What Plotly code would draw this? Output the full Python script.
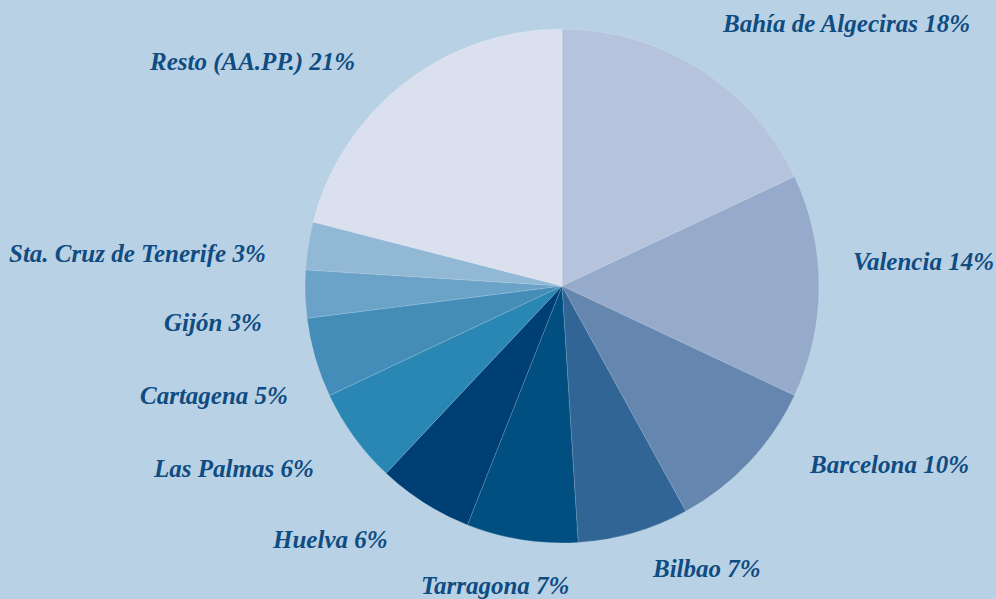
import plotly.graph_objects as go

labels = ["Bahía de Algeciras", "Valencia", "Barcelona", "Bilbao", "Tarragona",
          "Huelva", "Las Palmas", "Cartagena", "Gijón", "Sta. Cruz de Tenerife",
          "Resto (AA.PP.)"]
values = [18, 14, 10, 7, 7, 6, 6, 5, 3, 3, 21]
colors = ["#b5c4dc", "#96abcb", "#6586ae", "#316595", "#004f80", "#003f73",
          "#2a86b2", "#448db9", "#6aa2c8", "#91b8d5", "#dae0ee"]

W, H = 996, 599
# label anchor positions in pixels (x, y, xanchor)
label_pos = [(720, 24, "left"), (851, 261, "left"), (807, 464, "left"),
             (650, 568, "left"), (571, 585, "right"), (390, 539, "right"),
             (316, 468, "right"), (290, 395, "right"), (264, 322, "right"),
             (268, 253, "right"), (357, 62, "right")]

cx, cy, r = 562, 286, 257
fig = go.Figure(go.Pie(
    labels=labels, values=values, sort=False, direction="clockwise",
    rotation=0, marker=dict(colors=colors, line=dict(color="rgba(255,255,255,0.25)", width=0.6)),
    textinfo="none", hoverinfo="label+percent", showlegend=False,
    domain=dict(x=[(cx - r) / W, (cx + r) / W],
                y=[(H - cy - r) / H, (H - cy + r) / H]),
))

total = sum(values)
for lab, v, (px, py, xa) in zip(labels, values, label_pos):
    fig.add_annotation(
        x=px / W, y=1 - py / H, xref="paper", yref="paper",
        text=f"<b><i>{lab} {round(100 * v / total)}%</i></b>", showarrow=False,
        xanchor=xa, yanchor="middle",
        font=dict(family="Liberation Serif, Times New Roman, serif", size=25,
                  color="#0f4c81"),
    )

fig.update_layout(
    width=W, height=H, margin=dict(l=0, r=0, t=0, b=0),
    paper_bgcolor="#b9d1e5", plot_bgcolor="#b9d1e5",
    font=dict(family="Liberation Serif, Times New Roman, serif"),
)
fig.write_html("out.html", config={"displayModeBar": False},
               post_script="document.body.style.margin='0';document.body.style.background='#b9d1e5';")
